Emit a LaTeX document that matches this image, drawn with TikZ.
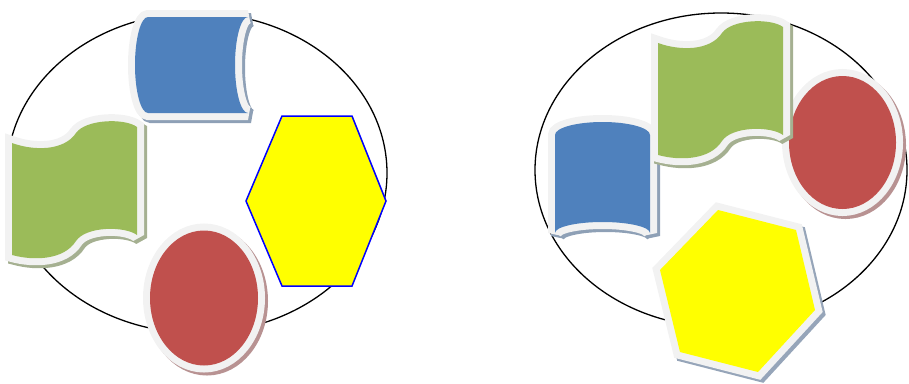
\documentclass[tikz,border=0pt]{standalone}
\usepackage{xcolor}
\definecolor{rim}{RGB}{242,242,242}
\definecolor{canblue}{RGB}{79,129,189}
\definecolor{flaggreen}{RGB}{155,187,89}
\definecolor{discred}{RGB}{192,80,77}
\definecolor{hexyellow}{RGB}{255,255,0}
\definecolor{blueshadow}{RGB}{142,160,182}
\definecolor{greenshadow}{RGB}{165,176,145}
\definecolor{redshadow}{RGB}{184,146,146}
\definecolor{yellowshadow}{RGB}{150,165,185}
\usepackage{tikz}

\begin{document}
\begin{tikzpicture}[
        x=1pt, y=-1pt,
        piece/.style={fill=#1, preaction={draw=rim, line width=14pt, miter limit=2}},
        shade/.style={preaction={draw=#1, fill=#1, line width=14pt, miter limit=2, transform canvas={xshift=3pt, yshift=-3pt}}},
        ring/.style={draw=black, line width=1.3pt}
    ]
        \useasboundingbox (0,0) rectangle (909,383);

        \draw[ring] (197,173) ellipse [x radius=190, y radius=160];

        \path[shade=blueshadow, piece=canblue] (148,17) -- (248,17)
            arc[start angle=270, end angle=90, x radius=13, y radius=48] -- (148,113)
            arc[start angle=90, end angle=270, x radius=13, y radius=48] -- cycle;

        \path[shade=greenshadow, piece=flaggreen, shift={(12,133)}] (0,10)
            .. controls (22,18) and (52,18) .. (64,0)
            .. controls (74,-14) and (113,-15) .. (125,-6) -- (125,102)
            .. controls (113,93) and (74,93) .. (64,108)
            .. controls (52,127) and (22,128) .. (0,122) -- cycle;

        \draw[draw=blue, fill=hexyellow, line width=1.5pt] (282,116) -- (352,116) -- (386,201)
            -- (352,286) -- (282,286) -- (246,201) -- cycle;

        \path[shade=redshadow, piece=discred] (204,298) ellipse [x radius=54, y radius=67.5];

        \draw[ring] (721,170) ellipse [x radius=186, y radius=157];

        \path[shade=redshadow, piece=discred] (842.5,142.5) ellipse [x radius=53.5, y radius=66.5];

        \path[shade=blueshadow, piece=canblue] (555,233) -- (555,135)
            arc[start angle=180, end angle=360, x radius=47.5, y radius=13] -- (650,233)
            arc[start angle=0, end angle=-180, x radius=47.5, y radius=11] -- cycle;

        \path[shade=greenshadow, piece=flaggreen, shift={(658,33)}] (0,10)
            .. controls (22,18) and (52,18) .. (64,0)
            .. controls (74,-14) and (113,-15) .. (125,-6) -- (125,102)
            .. controls (113,93) and (74,93) .. (64,108)
            .. controls (52,127) and (22,128) .. (0,122) -- cycle;

        \path[shade=yellowshadow, piece=hexyellow] (718,210) -- (796,230) -- (815,310)
            -- (758,372) -- (680,352) -- (660,270) -- cycle;
    \end{tikzpicture}
\end{document}
